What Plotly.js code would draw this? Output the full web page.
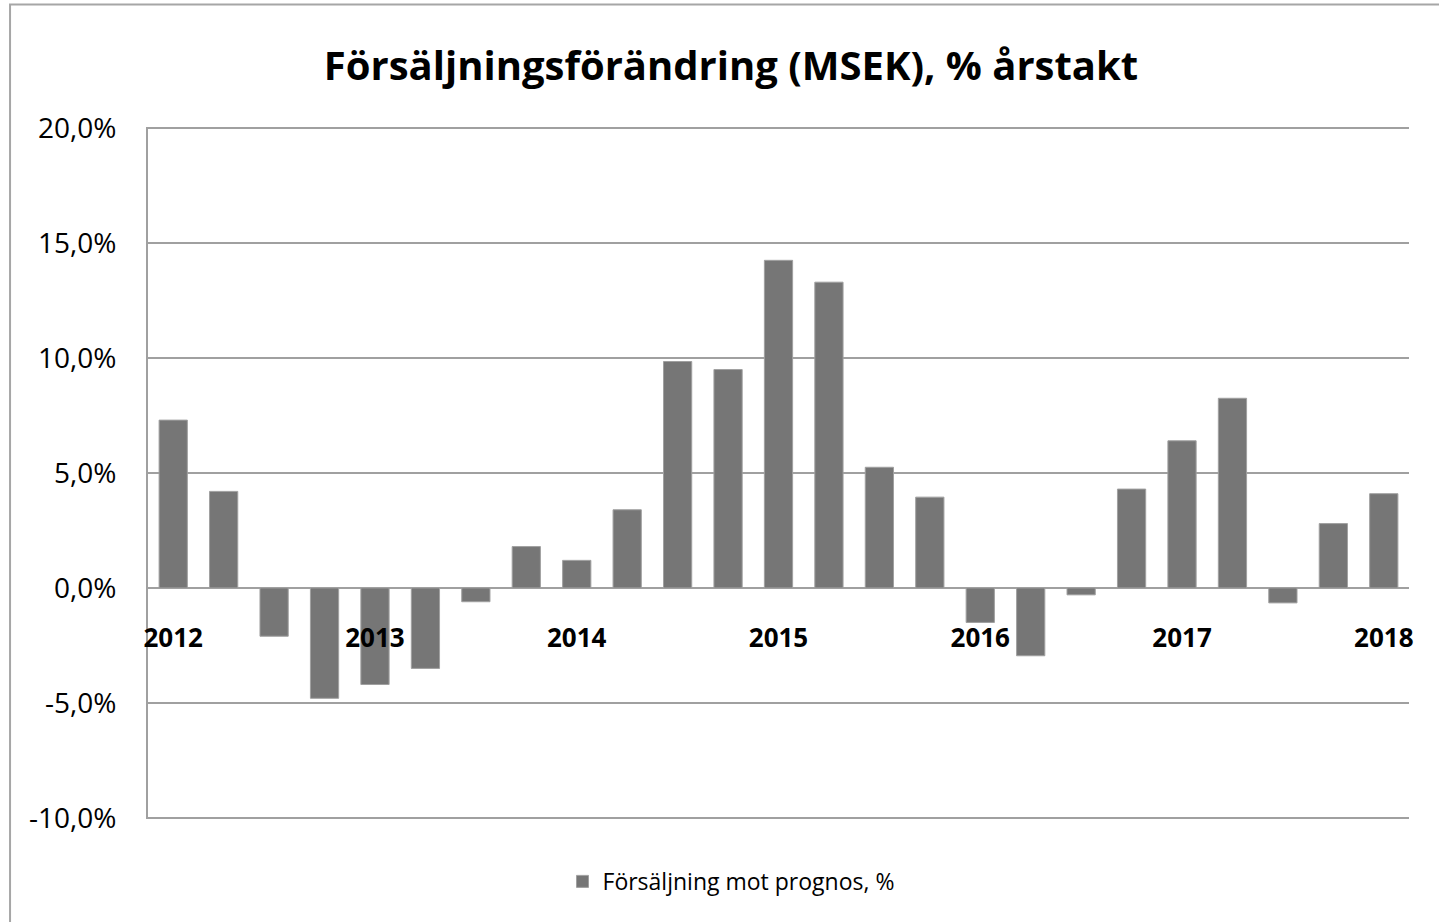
<!DOCTYPE html>
<html>
<head>
<meta charset="utf-8">
<script src="https://cdn.plot.ly/plotly-3.0.1.min.js"></script>
<style>
  html, body { margin: 0; padding: 0; background: #ffffff; }
  #chart { width: 1439px; height: 922px; }
</style>
</head>
<body>
<div id="chart"></div>
<script>
// Quarterly categories (2012 Q1 .. 2018 Q1)
const categories = [
  "2012 Q1", "2012 Q2", "2012 Q3", "2012 Q4",
  "2013 Q1", "2013 Q2", "2013 Q3", "2013 Q4",
  "2014 Q1", "2014 Q2", "2014 Q3", "2014 Q4",
  "2015 Q1", "2015 Q2", "2015 Q3", "2015 Q4",
  "2016 Q1", "2016 Q2", "2016 Q3", "2016 Q4",
  "2017 Q1", "2017 Q2", "2017 Q3", "2017 Q4",
  "2018 Q1"
];

// Försäljning mot prognos, %
const salesVsForecast = [
  7.3, 4.2, -2.1, -4.8,
  -4.2, -3.5, -0.6, 1.8,
  1.2, 3.4, 9.85, 9.5,
  14.25, 13.3, 5.25, 3.95,
  -1.5, -2.95, -0.3, 4.3,
  6.4, 8.25, -0.65, 2.8,
  4.1
];

// Year tick labels and where they sit
const yearTickVals = ["2012 Q1", "2013 Q1", "2014 Q1", "2015 Q1", "2016 Q1", "2017 Q1", "2018 Q1"];
const yearTickText = ["2012", "2013", "2014", "2015", "2016", "2017", "2018"];

// Value axis ticks
const yTickVals = [-10, -5, 0, 5, 10, 15, 20];
const yTickText = ["-10,0%", "-5,0%", "0,0%", "5,0%", "10,0%", "15,0%", "20,0%"];

const seriesName = "Försäljning mot prognos, %";
const chartTitle = "Försäljningsförändring (MSEK), % årstakt";

const gridColor = "#a0a0a0";
const fontFamily = "Open Sans, Noto Sans, sans-serif";

const trace = {
  type: "bar",
  x: categories,
  y: salesVsForecast,
  name: seriesName,
  marker: { color: "#767676", line: { color: "#a0a0a0", width: 1 } },
  showlegend: true,
  hoverinfo: "x+y"
};

const layout = {
  width: 1439,
  height: 922,
  paper_bgcolor: "#ffffff",
  plot_bgcolor: "#ffffff",
  margin: { l: 148, r: 30, t: 127, b: 103, pad: 0 },
  separators: ", ",
  font: { family: fontFamily, color: "#000000" },
  title: {
    text: chartTitle,
    font: { family: fontFamily, size: 40, color: "#000000", weight: "bold" },
    x: 0.508, xref: "container", xanchor: "center",
    y: 0.928, yref: "container", yanchor: "middle"
  },
  bargap: 0.44,
  xaxis: {
    type: "category",
    categoryorder: "array",
    categoryarray: categories,
    anchor: "free",
    position: 1 / 3,
    showgrid: false,
    zeroline: false,
    showline: false,
    tickmode: "array",
    tickvals: yearTickVals,
    ticktext: yearTickText,
    ticks: "outside",
    ticklen: 26,
    tickcolor: "rgba(0,0,0,0)",
    tickfont: { family: fontFamily, size: 26, color: "#000000", weight: "bold" },
    tickangle: 0,
    fixedrange: true
  },
  yaxis: {
    range: [-10.05, 20.05],
    tickmode: "array",
    tickvals: yTickVals,
    ticktext: yTickText,
    showgrid: true,
    gridcolor: gridColor,
    gridwidth: 2,
    zeroline: true,
    zerolinecolor: gridColor,
    zerolinewidth: 2,
    showline: true,
    linecolor: gridColor,
    linewidth: 2,
    ticks: "outside",
    ticklen: 24,
    tickcolor: "rgba(0,0,0,0)",
    tickfont: { family: fontFamily, size: 28, color: "#000000" },
    fixedrange: true
  },
  legend: {
    orientation: "h",
    xref: "container",
    yref: "container",
    x: 0.508,
    xanchor: "center",
    y: 0.044,
    yanchor: "middle",
    font: { family: fontFamily, size: 23, color: "#000000" },
    bgcolor: "rgba(0,0,0,0)"
  },
  shapes: [
    {
      type: "rect",
      xref: "paper", yref: "paper",
      x0: -0.1094, x1: 1.2,
      y0: -0.3, y1: 1.177,
      line: { color: "#a6a6a6", width: 2 },
      fillcolor: "rgba(0,0,0,0)",
      layer: "below"
    }
  ]
};

Plotly.newPlot("chart", [trace], layout, { displayModeBar: false, staticPlot: true });
</script>
</body>
</html>
